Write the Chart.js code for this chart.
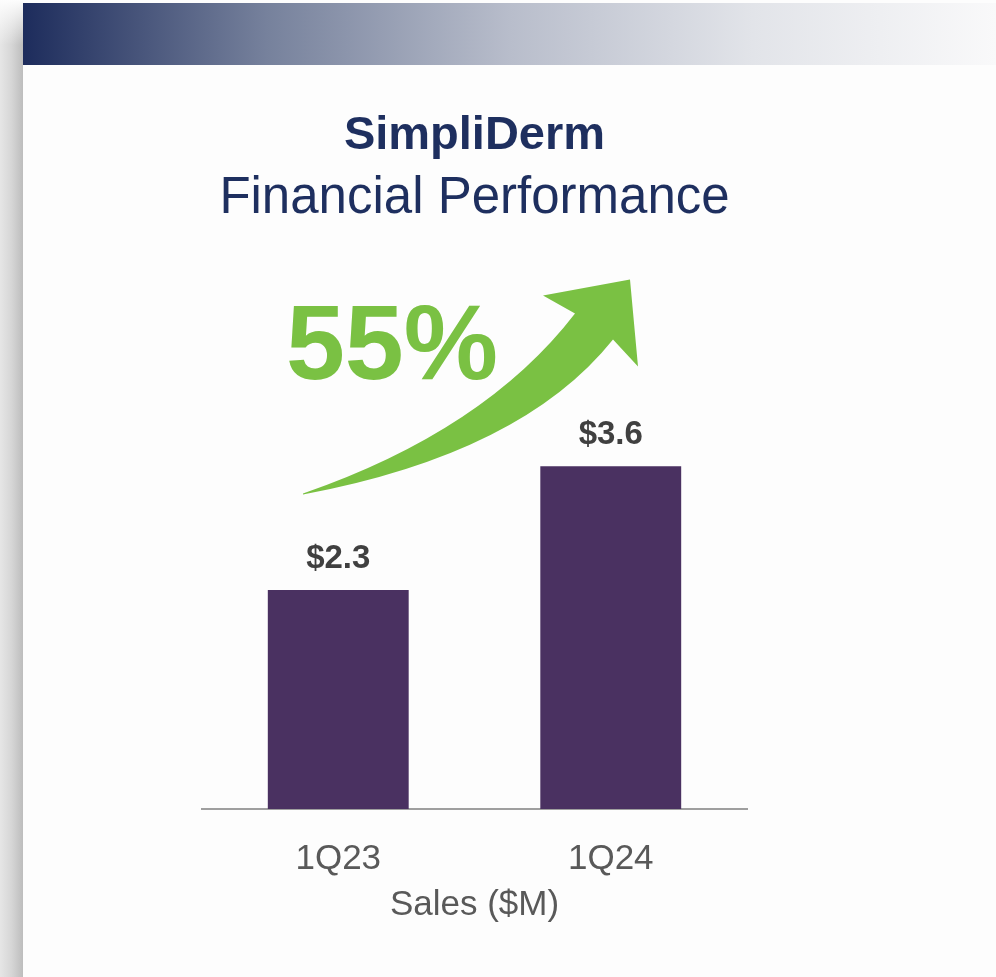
<!DOCTYPE html>
<html>
<head>
<meta charset="utf-8">
<script src="https://cdn.jsdelivr.net/npm/chart.js@4/dist/chart.umd.min.js"></script>
<style>
  body { margin: 0; background: #fff; }
  canvas { display: block; }
</style>
</head>
<body>
<canvas id="myChart" width="996" height="977"></canvas>
<script>
// dane
const quarters = ['1Q23', '1Q24'];
const sales = [2.3, 3.6];
const growthLabel = '55%';

const FONT = "'Liberation Sans', Arial, sans-serif";

// tlo slajdu: pasek u gory + cien z lewej
const slideBackground = {
    id: 'slideBackground',
    beforeDraw(chart) {
        const ctx = chart.ctx;
        const w = chart.width, h = chart.height;
        ctx.save();
        ctx.fillStyle = '#fdfdfd';
        ctx.fillRect(0, 0, w, h);

        let g = ctx.createLinearGradient(0, 0, 23, 0);
        g.addColorStop(0, '#e6e6e6');
        g.addColorStop(0.5, '#d6d6d6');
        g.addColorStop(1, '#bdbdbd');
        ctx.fillStyle = g;
        ctx.fillRect(0, 0, 23, h);
        let fade = ctx.createLinearGradient(0, 0, 0, 45);
        fade.addColorStop(0, 'rgba(253,253,253,1)');
        fade.addColorStop(1, 'rgba(253,253,253,0)');
        ctx.fillStyle = fade;
        ctx.fillRect(0, 0, 23, 45);

        g = ctx.createLinearGradient(23, 0, w, 0);
        g.addColorStop(0, '#1d2c5c');
        g.addColorStop(0.25, '#76819c');
        g.addColorStop(0.5, '#b8bdcb');
        g.addColorStop(0.75, '#e2e4e9');
        g.addColorStop(1, '#f9f9fa');
        ctx.fillStyle = g;
        ctx.fillRect(23, 3, w - 23, 62);
        ctx.restore();
    }
};

// zielona strzalka i napis 55%
const growthArrow = {
    id: 'growthArrow',
    afterDraw(chart) {
        const ctx = chart.ctx;
        const L = chart.chartArea.left, T = chart.chartArea.top;
        const p = (x, y) => [L + x, T + y];
        ctx.save();
        ctx.fillStyle = '#7ac143';
        ctx.beginPath();
        ctx.moveTo(...p(101, 256));
        ctx.quadraticCurveTo(...p(283, 193), ...p(373, 76));
        ctx.lineTo(...p(341, 58));
        ctx.lineTo(...p(428, 42));
        ctx.lineTo(...p(436, 129));
        ctx.lineTo(...p(411, 102));
        ctx.quadraticCurveTo(...p(320, 216), ...p(101, 257));
        ctx.closePath();
        ctx.fill();

        ctx.font = 'bold 106px ' + FONT;
        ctx.textAlign = 'center';
        ctx.textBaseline = 'alphabetic';
        ctx.fillText(growthLabel, ...p(190, 141));
        ctx.restore();
    }
};

// etykiety nad slupkami
const barValues = {
    id: 'barValues',
    afterDatasetsDraw(chart) {
        const ctx = chart.ctx;
        const meta = chart.getDatasetMeta(0);
        ctx.save();
        ctx.font = 'bold 33px ' + FONT;
        ctx.fillStyle = '#404040';
        ctx.textAlign = 'center';
        ctx.textBaseline = 'middle';
        meta.data.forEach((bar, i) => {
            ctx.fillText('$' + sales[i].toFixed(1), bar.x, bar.y - 31);
        });
        ctx.restore();
    }
};

const data = {
    labels: quarters,
    datasets: [{
        label: 'Sales ($M)',
        data: sales,
        backgroundColor: '#4a3161',
        barPercentage: 0.517,
        categoryPercentage: 1
    }]
};

const config = {
    type: 'bar',
    data: data,
    plugins: [slideBackground, barValues, growthArrow],
    options: {
        responsive: false,
        animation: false,
        devicePixelRatio: 1,
        layout: {
            padding: { top: 70, left: 202, right: 249, bottom: 47 }
        },
        plugins: {
            legend: { display: false },
            tooltip: { enabled: false },
            title: {
                display: true,
                text: 'SimpliDerm',
                color: '#1e2f5f',
                font: { family: FONT, size: 47, weight: 'bold', lineHeight: 1.2 },
                padding: { top: 38, bottom: 0 }
            },
            subtitle: {
                display: true,
                text: 'Financial Performance',
                color: '#1e2f5f',
                font: { family: FONT, size: 51, weight: 'normal', lineHeight: 1.2 },
                padding: { top: 4, bottom: 8 }
            }
        },
        scales: {
            x: {
                grid: { display: false, drawTicks: false },
                border: { display: true, color: '#9f9f9f', width: 2 },
                ticks: {
                    color: '#595959',
                    padding: 29,
                    font: { family: FONT, size: 35, lineHeight: 1.2 }
                },
                title: {
                    display: true,
                    text: 'Sales ($M)',
                    color: '#595959',
                    padding: { top: -25, bottom: 4 },
                    font: { family: FONT, size: 35, lineHeight: 1.2 }
                }
            },
            y: {
                display: false,
                min: 0,
                max: 6
            }
        }
    }
};

const myChart = new Chart(document.getElementById('myChart'), config);
</script>
</body>
</html>
